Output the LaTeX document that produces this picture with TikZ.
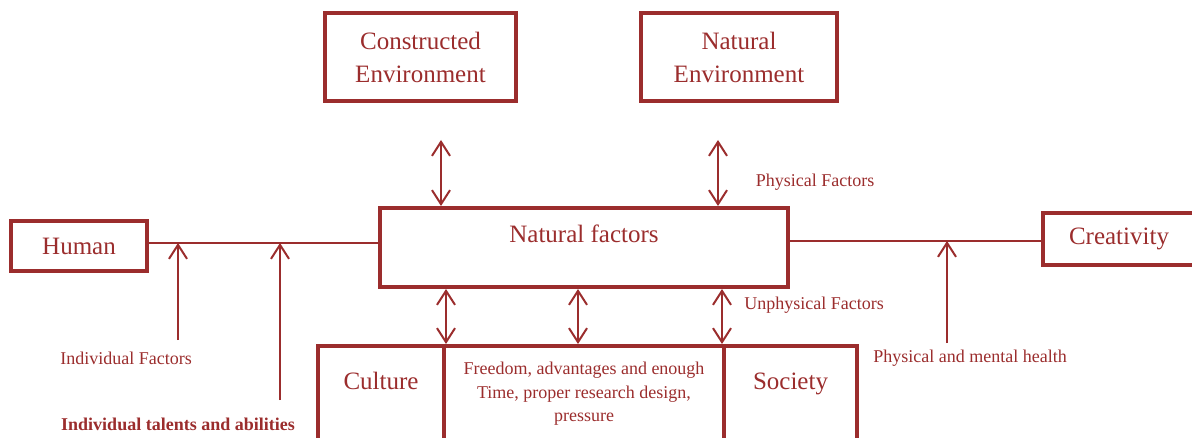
\documentclass[tikz,border=0pt]{standalone}
\usepackage{fontspec}
\setmainfont{Liberation Serif}
\usetikzlibrary{arrows.meta}
\definecolor{frred}{RGB}{155,45,45}

\tikzset{
  box/.style={draw=frred, line width=2pt, text=frred, align=center, inner sep=0pt,
    font=\fontsize{12.5}{16.5}\selectfont},
  lbl/.style={text=frred, inner sep=0pt, font=\fontsize{9}{11.75}\selectfont},
  link/.style={frred, line width=1pt},
  dbl/.style={link, {Straight Barb[length=7pt,width=9pt]}-{Straight Barb[length=7pt,width=9pt]}},
  up/.style={link, -{Straight Barb[length=7pt,width=9pt]}}
}

\begin{document}
\begin{tikzpicture}[x=0.5pt,y=-0.5pt]
\clip (0,0) rectangle (1192,438);
% Environments on top
\node[box, minimum width=95.5pt, minimum height=44pt] (cenv) at (420.5,57) {Constructed\\Environment};
\node[box, minimum width=98pt, minimum height=44pt] (nenv) at (739,57) {Natural\\Environment};
% Central box
\node[box, minimum width=204pt, minimum height=39.5pt, text depth=14pt] (nf) at (584,247.5) {Natural factors};
% Left and right ends
\node[box, minimum width=68pt, minimum height=25pt] (human) at (79,246) {Human};
\node[box, minimum width=76pt, minimum height=26pt] (crea) at (1119,239) {Creativity};
% Bottom row
\node[box, anchor=north, minimum width=63pt, minimum height=60pt, text depth=25pt] (culture) at (381,344) {Culture};
\node[box, anchor=north, minimum width=140pt, minimum height=60pt, text depth=14pt,
  font=\fontsize{9}{11.75}\selectfont] (mid) at (584,344) {Freedom, advantages and enough\\Time, proper research design,\\pressure};
\node[box, anchor=north, minimum width=66.5pt, minimum height=60pt, text depth=25pt] (society) at (790.5,344) {Society};
% Connections
\coordinate (ca) at (441,140);
\coordinate (na) at (718,140);
\coordinate (hl) at ([yshift=1.5pt]human.east);
\coordinate (cl) at ([yshift=-1pt]crea.west);
\draw[dbl] (ca) -- (ca |- nf.north);
\draw[dbl] (na) -- (na |- nf.north);
\draw[dbl] (culture.north east |- nf.south) -- (culture.north east);
\draw[dbl] (578,0 |- nf.south) -- (578,0 |- mid.north);
\draw[dbl] (society.north west |- nf.south) -- (society.north west);
\draw[link] (hl) -- (nf.west |- hl);
\draw[link] (nf.east |- cl) -- (cl);
% Influences from below
\coordinate (if1) at (178,340);
\coordinate (if2) at (280,400);
\coordinate (if3) at (947,343);
\draw[up] (if1) -- (if1 |- hl);
\draw[up] (if2) -- (if2 |- hl);
\draw[up] (if3) -- (if3 |- cl);
% Labels
\node[lbl] (phys) at (815,182) {Physical Factors};
\node[lbl] (unphys) at (814,305) {Unphysical Factors};
\node[lbl] (indf) at (126,358) {Individual Factors};
\node[lbl, font=\bfseries\fontsize{9}{11.75}\selectfont] (talent) at (178,424) {Individual talents and abilities};
\node[lbl] (health) at (970,358) {Physical and mental health};
\end{tikzpicture}
\end{document}
